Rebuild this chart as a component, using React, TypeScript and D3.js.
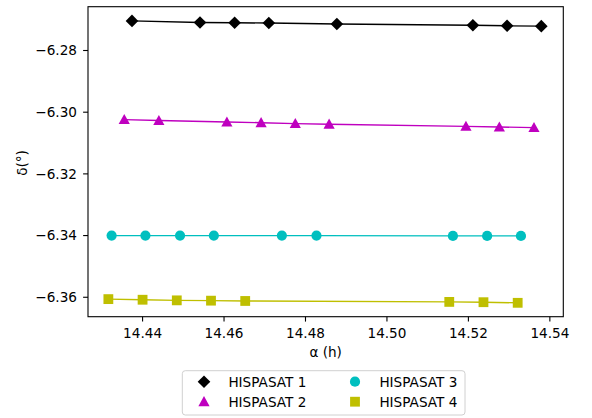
import React from "react";
import * as d3 from "d3";

// data: right ascension (h) and declination (deg)
const h1X = [14.4374, 14.4541, 14.4626, 14.471, 14.4877, 14.5211, 14.5295, 14.5379];
const h1Y = [-6.2704, -6.2709, -6.271, -6.2711, -6.2714, -6.2718, -6.272, -6.2721];

const h2X = [14.4355, 14.444, 14.4607, 14.4691, 14.4775, 14.4858, 14.5194, 14.5276, 14.5361];
const h2Y = [-6.3024, -6.3027, -6.3032, -6.3034, -6.3037, -6.3039, -6.3046, -6.3048, -6.305];

const h3X = [14.4324, 14.4407, 14.4492, 14.4575, 14.4742, 14.4827, 14.5162, 14.5246, 14.5329];
const h3Y = [-6.34, -6.34, -6.34, -6.34, -6.34, -6.34, -6.3401, -6.3401, -6.3401];

const h4X = [14.4316, 14.44, 14.4484, 14.4568, 14.4652, 14.5153, 14.5237, 14.5321];
const h4Y = [-6.3606, -6.3608, -6.361, -6.3611, -6.3612, -6.3615, -6.3616, -6.3618];

const xTicks = [14.44, 14.46, 14.48, 14.5, 14.52, 14.54];
const yTicks = [-6.28, -6.3, -6.32, -6.34, -6.36];

const series = [
  { name: "HISPASAT 1", xs: h1X, ys: h1Y, color: "#000000", marker: "D" },
  { name: "HISPASAT 2", xs: h2X, ys: h2Y, color: "#bf00bf", marker: "^" },
  { name: "HISPASAT 3", xs: h3X, ys: h3Y, color: "#00bfbf", marker: "o" },
  { name: "HISPASAT 4", xs: h4X, ys: h4Y, color: "#bfbf00", marker: "s" },
];

const W = 592;
const H = 418;
const left = 88;
const right = 563.3;
const top = 6.7;
const bottom = 316.7;
const font = "DejaVu Sans, sans-serif";
const fs = 13.6;

const Marker = ({ kind, x, y, color }: { kind: string; x: number; y: number; color: string }) => {
  if (kind === "D") {
    const r = 6.3;
    return <path d={`M${x},${y - r}L${x + r},${y}L${x},${y + r}L${x - r},${y}Z`} fill={color} />;
  }
  if (kind === "^") {
    const r = 5.6;
    return (
      <path
        d={`M${x},${y - r}L${x + r},${y + r * 0.8}L${x - r},${y + r * 0.8}Z`}
        fill={color}
      />
    );
  }
  if (kind === "o") return <circle cx={x} cy={y} r={5.1} fill={color} />;
  return <rect x={x - 4.9} y={y - 4.9} width={9.8} height={9.8} fill={color} />;
};

const App = () => {
  const x = d3.scaleLinear().domain([14.4266, 14.5433]).range([left, right]);
  const y = d3.scaleLinear().domain([-6.3663, -6.2658]).range([bottom, top]);
  const line = d3
    .line<[number, number]>()
    .x((d) => x(d[0]))
    .y((d) => y(d[1]));

  const fmt = (v: number) => d3.format(".2f")(v).replace("-", "\u2212");

  return (
    <svg
      width={W}
      height={H}
      style={{ position: "absolute", left: 0, top: 0, background: "#fff" }}
      fontFamily={font}
    >
      {series.map((s) => (
        <g key={s.name}>
          <path
            d={line(s.xs.map((v, i) => [v, s.ys[i]]) as [number, number][]) || ""}
            fill="none"
            stroke={s.color}
            strokeWidth={1.4}
          />
          {s.xs.map((v, i) => (
            <Marker key={i} kind={s.marker} x={x(v)} y={y(s.ys[i])} color={s.color} />
          ))}
        </g>
      ))}

      <rect
        x={left}
        y={top}
        width={right - left}
        height={bottom - top}
        fill="none"
        stroke="#000"
        strokeWidth={1.1}
      />

      {xTicks.map((t) => (
        <g key={t}>
          <line x1={x(t)} x2={x(t)} y1={bottom} y2={bottom + 4.9} stroke="#000" strokeWidth={1.1} />
          <text x={x(t)} y={337.5} textAnchor="middle" fontSize={fs} fill="#000">
            {fmt(t)}
          </text>
        </g>
      ))}
      {yTicks.map((t) => (
        <g key={t}>
          <line x1={left - 4.9} x2={left} y1={y(t)} y2={y(t)} stroke="#000" strokeWidth={1.1} />
          <text x={77} y={y(t)} dy="0.36em" textAnchor="end" fontSize={fs} fill="#000">
            {fmt(t)}
          </text>
        </g>
      ))}

      <text x={(left + right) / 2} y={357} textAnchor="middle" fontSize={fs} fill="#000">
        α (h)
      </text>
      <text
        transform={`translate(26.5,163) rotate(-90)`}
        textAnchor="middle"
        fontSize={fs}
        fill="#000"
      >
        δ(°)
      </text>

      <rect x={182.3} y={370.7} width={282.7} height={44.3} rx={3} fill="#fff" stroke="#d0d0d0" strokeWidth={1} />
      {series.map((s, i) => {
        const col = Math.floor(i / 2);
        const row = i % 2;
        const mx = col === 0 ? 204 : 355;
        const my = row === 0 ? 381.7 : 401.7;
        return (
          <g key={s.name}>
            <Marker kind={s.marker} x={mx} y={my} color={s.color} />
            <text x={mx + 24.4} y={my} dy="0.36em" fontSize={fs} fill="#000">
              {s.name}
            </text>
          </g>
        );
      })}
    </svg>
  );
};

export default App;
